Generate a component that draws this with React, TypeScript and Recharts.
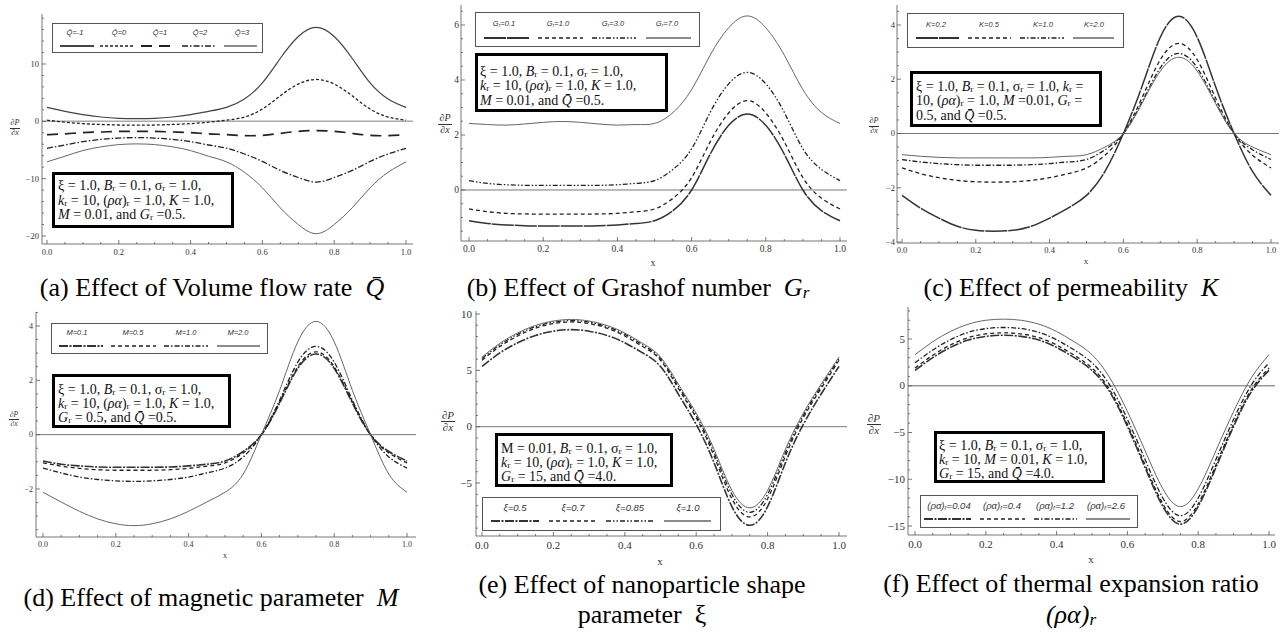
import React from 'react';
import { LineChart, Line, XAxis, YAxis, ReferenceLine } from 'recharts';

// ---------- shared x grid ----------
const xValues = [0, 0.05, 0.1, 0.15, 0.2, 0.25, 0.3, 0.35, 0.4, 0.45, 0.5, 0.55, 0.6, 0.65, 0.7, 0.75, 0.8, 0.85, 0.9, 0.95, 1];
const xTickLabels = ['0.0', '0.2', '0.4', '0.6', '0.8', '1.0'];

// ---------- (a) volume flow rate ----------
const qBarLabels = ['-1', '0', '1', '2', '3'];
const qBarM1 = [2.43, 1.74, 1.16, 0.75, 0.52, 0.46, 0.52, 0.75, 1.16, 1.74, 2.43, 3.9, 6.7, 11.0, 14.8, 16.4, 14.8, 11.0, 6.7, 3.9, 2.43];
const qBar0 = [0.2, -0.15, -0.4, -0.55, -0.64, -0.68, -0.64, -0.55, -0.4, -0.15, 0.2, 0.75, 2.15, 4.45, 6.5, 7.3, 6.5, 4.45, 2.15, 0.75, 0.2];
const qBar1 = [-2.32, -2.18, -1.97, -1.86, -1.77, -1.74, -1.77, -1.86, -1.97, -2.18, -2.32, -2.5, -2.45, -2.1, -1.75, -1.62, -1.75, -2.1, -2.45, -2.5, -2.32];
const qBar2 = [-4.7, -4.13, -3.54, -3.16, -2.92, -2.84, -2.92, -3.16, -3.54, -4.13, -4.7, -5.7, -7.0, -8.57, -9.8, -10.6, -9.8, -8.57, -7.0, -5.7, -4.7];
const qBar3 = [-7.07, -6.09, -5.1, -4.46, -4.06, -3.94, -4.06, -4.46, -5.1, -6.09, -7.07, -8.9, -11.6, -15.1, -18.0, -19.6, -18.0, -15.1, -11.6, -8.9, -7.07];

// ---------- (b) Grashof number ----------
const grLabels = ['0.1', '1.0', '3.0', '7.0'];
const gr01 = [-1.12, -1.22, -1.27, -1.3, -1.31, -1.31, -1.31, -1.3, -1.27, -1.22, -1.12, -0.75, 0.0, 1.3, 2.35, 2.76, 2.35, 1.3, 0.0, -0.75, -1.12];
const gr10 = [-0.69, -0.79, -0.85, -0.87, -0.88, -0.88, -0.88, -0.87, -0.85, -0.79, -0.69, -0.3, 0.45, 1.75, 2.8, 3.25, 2.8, 1.75, 0.45, -0.3, -0.69];
const gr30 = [0.34, 0.24, 0.19, 0.17, 0.17, 0.17, 0.17, 0.17, 0.19, 0.24, 0.34, 0.75, 1.5, 2.82, 3.86, 4.28, 3.86, 2.82, 1.5, 0.75, 0.34];
const gr70 = [2.42, 2.38, 2.36, 2.4, 2.46, 2.49, 2.46, 2.4, 2.36, 2.38, 2.42, 2.82, 3.65, 4.9, 5.9, 6.33, 5.9, 4.9, 3.65, 2.82, 2.42];

// ---------- (c) permeability ----------
const kLabels = ['0.2', '0.5', '1.0', '2.0'];
const k02 = [-2.28, -2.75, -3.12, -3.42, -3.57, -3.6, -3.57, -3.42, -3.12, -2.75, -2.28, -1.4, 0.0, 1.72, 3.55, 4.32, 3.55, 1.72, 0.0, -1.4, -2.28];
const k05 = [-1.27, -1.48, -1.63, -1.73, -1.78, -1.79, -1.78, -1.73, -1.63, -1.48, -1.27, -0.8, 0.0, 1.3, 2.72, 3.32, 2.72, 1.3, 0.0, -0.8, -1.27];
const k10 = [-0.96, -1.05, -1.11, -1.15, -1.17, -1.17, -1.17, -1.15, -1.11, -1.05, -0.96, -0.6, 0.0, 1.15, 2.42, 2.95, 2.42, 1.15, 0.0, -0.6, -0.96];
const k20 = [-0.78, -0.84, -0.88, -0.9, -0.9, -0.9, -0.9, -0.9, -0.88, -0.84, -0.78, -0.5, 0.0, 1.1, 2.3, 2.81, 2.3, 1.1, 0.0, -0.5, -0.78];

// ---------- (d) magnetic parameter ----------
const mLabels = ['0.1', '0.5', '1.0', '2.0'];
const m01 = [-0.97, -1.09, -1.15, -1.19, -1.2, -1.2, -1.2, -1.19, -1.15, -1.09, -0.97, -0.62, 0.0, 1.16, 2.44, 2.97, 2.44, 1.16, 0.0, -0.62, -0.97];
const m05 = [-1.04, -1.16, -1.24, -1.29, -1.31, -1.31, -1.31, -1.29, -1.24, -1.16, -1.04, -0.67, 0.0, 1.2, 2.5, 3.05, 2.5, 1.2, 0.0, -0.67, -1.04];
const m10 = [-1.23, -1.41, -1.56, -1.65, -1.7, -1.72, -1.7, -1.65, -1.56, -1.41, -1.23, -0.82, 0.0, 1.27, 2.67, 3.25, 2.67, 1.27, 0.0, -0.82, -1.23];
const m20 = [-2.12, -2.48, -2.82, -3.1, -3.28, -3.35, -3.28, -3.1, -2.82, -2.48, -2.12, -1.45, 0.0, 1.63, 3.42, 4.17, 3.42, 1.63, 0.0, -1.45, -2.12];

// ---------- (e) nanoparticle shape parameter ----------
const xiLabels = ['0.5', '0.7', '0.85', '1.0'];
const xi05 = [5.35, 6.55, 7.45, 8.1, 8.48, 8.62, 8.48, 8.1, 7.45, 6.55, 5.35, 2.9, 0.2, -3.2, -7.1, -8.75, -7.1, -3.2, 0.2, 2.9, 5.35];
const xi07 = [5.9, 7.12, 8.05, 8.75, 9.15, 9.3, 9.15, 8.75, 8.05, 7.12, 5.9, 3.4, 0.8, -2.6, -6.4, -8.0, -6.4, -2.6, 0.8, 3.4, 5.9];
const xi085 = [6.05, 7.27, 8.2, 8.88, 9.28, 9.42, 9.28, 8.88, 8.2, 7.27, 6.05, 3.6, 1.0, -2.3, -6.0, -7.6, -6.0, -2.3, 1.0, 3.6, 6.05];
const xi10 = [6.18, 7.4, 8.32, 8.99, 9.38, 9.52, 9.38, 8.99, 8.32, 7.4, 6.18, 3.78, 1.2, -2.0, -5.65, -7.2, -5.65, -2.0, 1.2, 3.78, 6.18];

// ---------- (f) thermal expansion ratio ----------
const raLabels = ['0.04', '0.4', '1.2', '2.6'];
const ra004 = [1.64, 3.0, 4.1, 4.88, 5.28, 5.4, 5.28, 4.88, 4.1, 3.0, 1.64, -0.65, -4.35, -8.75, -12.9, -14.8, -12.9, -8.75, -4.35, -0.65, 1.64];
const ra04 = [1.89, 3.26, 4.36, 5.14, 5.54, 5.66, 5.54, 5.14, 4.36, 3.26, 1.89, -0.43, -4.11, -8.48, -12.62, -14.52, -12.62, -8.48, -4.11, -0.43, 1.89];
const ra12 = [2.45, 3.82, 4.92, 5.7, 6.11, 6.23, 6.11, 5.7, 4.92, 3.82, 2.45, 0.07, -3.58, -7.89, -12.0, -13.9, -12.0, -7.89, -3.58, 0.07, 2.45];
const ra26 = [3.32, 4.7, 5.8, 6.58, 7.0, 7.12, 7.0, 6.58, 5.8, 4.7, 3.32, 0.85, -2.75, -6.95, -11.02, -12.93, -11.02, -6.95, -2.75, 0.85, 3.32];

// ---------- styles ----------
type St = { stroke: string; width: number; dash?: string; lw?: number };
const THIN: St = { stroke: '#666', width: 1.0 };
const DASHED: St = { stroke: '#222', width: 1.3, dash: '4 3' };
const DASHDOT: St = { stroke: '#222', width: 1.3, dash: '5 2 1.5 2' };
const DASHDOTDOT: St = { stroke: '#222', width: 1.3, dash: '5 2 1.5 2 1.5 2' };
const THICKDASH: St = { stroke: '#333', width: 1.5, dash: '22 1', lw: 2.2 };
const THICKDD: St = { stroke: '#333', width: 1.6, dash: '9 1.5 2 1.5', lw: 2.0 };

const buildRows = (arrs: number[][]) =>
  xValues.map((x, i) => {
    const r: any = { x };
    arrs.forEach((a, k) => { r['s' + k] = a[i]; });
    return r;
  });

const stepTicks = (a: number, b: number, s: number) => {
  const out: number[] = [];
  const n = Math.round((b - a) / s);
  for (let i = 0; i <= n; i++) out.push(Math.round((a + i * s) * 1000) / 1000);
  return out;
};

const isMajor = (v: number, step: number) => Math.abs(v / step - Math.round(v / step)) < 1e-6;
const fmtY = (v: number) => (v < 0 ? '\u2212' + Math.abs(v) : String(v));

const Sub = ({ c }: { c: React.ReactNode }) => (
  <sub style={{ fontSize: '66%', verticalAlign: '-0.12em', lineHeight: 0 }}>{c}</sub>
);
const I = ({ c }: { c: React.ReactNode }) => <i>{c}</i>;
const QB = 'Q\u0304';

// ---------- panel configuration ----------
const panels: any[] = [
  {
    frame: { l: 42, t: 14, r: 413, b: 244 },
    xDomain: [-0.0139, 1.0195], yDomain: [-21.4, 18.72],
    yTicks: stepTicks(-20, 18, 2), yMajor: 10,
    tickFont: 8.5, xLabelDy: 10.5, yGap: 3,
    rows: buildRows([qBarM1, qBar0, qBar1, qBar2, qBar3]),
    styles: [{ stroke: '#444', width: 1.2, lw: 2.2 }, { stroke: '#222', width: 1.3, dash: '3 2' }, { stroke: '#222', width: 1.7, dash: '11 7' }, { stroke: '#222', width: 1.3, dash: '6 2 1.5 2' }, THIN],
    zero: { stroke: '#aaa', width: 1.5 },
    legend: {
      l: 52, t: 23, r: 263, b: 53, labelY: 32.5, lineY: 46, fs: 7.5,
      cx: [75, 119, 160, 200, 242], seg: [[60, 94], [100, 135], [141, 174], [182, 215], [224, 257]],
      labels: qBarLabels.map((q) => <>{QB}={q}</>),
    },
    param: { l: 52, t: 172, r: 234, b: 228, x: 58, ys: [186, 200.5, 215], fs: 14,
      lines: [
        <>ξ = 1.0, <I c="B" /><Sub c="r" /> = 0.1, σ<Sub c="r" /> = 1.0,</>,
        <><I c="k" /><Sub c="r" /> = 10, (<I c="ρα" />)<Sub c="r" /> = 1.0, <I c="K" /> = 1.0,</>,
        <><I c="M" /> = 0.01, and <I c="G" /><Sub c="r" /> =0.5.</>,
      ] },
    ylab: { cx: 15, cy: 128, fs: 8 },
    xlab: null,
    caption: { cx: 212, cys: [288], lines: [<>(a) Effect of Volume flow rate&nbsp;&nbsp;<I c={QB} /></>] },
  },
  {
    frame: { l: 461, t: 5, r: 847, b: 241 },
    xDomain: [-0.0216, 1.0189], yDomain: [-1.855, 6.727],
    yTicks: stepTicks(-1.5, 6.5, 0.5), yMajor: 2,
    tickFont: 9.5, xLabelDy: 10.5, yGap: 2,
    rows: buildRows([gr01, gr10, gr30, gr70]),
    styles: [THICKDASH, DASHED, DASHDOTDOT, THIN],
    zero: { stroke: '#777', width: 1 },
    legend: {
      l: 475, t: 12, r: 700, b: 47, labelY: 24, lineY: 37.5, fs: 7.5,
      cx: [504, 558, 613, 667], seg: [[484, 529], [538, 583], [592, 636], [646, 691]],
      labels: grLabels.map((g) => <>G<Sub c="r" />={g}</>),
    },
    param: { l: 475, t: 53, r: 668, b: 112, x: 480, ys: [71.5, 86, 100.5], fs: 14,
      lines: [
        <>ξ = 1.0, <I c="B" /><Sub c="r" /> = 0.1, σ<Sub c="r" /> = 1.0,</>,
        <><I c="k" /><Sub c="r" /> = 10, (<I c="ρα" />)<Sub c="r" /> = 1.0, <I c="K" /> = 1.0,</>,
        <><I c="M" /> = 0.01, and <I c={QB} /> =0.5.</>,
      ] },
    ylab: { cx: 445, cy: 124, fs: 10 },
    xlab: { x: 653, y: 263, fs: 10 },
    caption: { cx: 638, cys: [288], lines: [<>(b) Effect of Grashof number&nbsp;&nbsp;<I c={<>G<Sub c="r" /></>} /></>] },
  },
  {
    frame: { l: 897, t: 5, r: 1279, b: 243 },
    xDomain: [-0.0136, 1.0217], yDomain: [-4.037, 4.737],
    yTicks: stepTicks(-4, 4.5, 0.5), yMajor: 2,
    tickFont: 8.5, xLabelDy: 9.5, yGap: 2,
    rows: buildRows([k02, k05, k10, k20]),
    styles: [THICKDASH, DASHED, DASHDOT, THIN],
    zero: { stroke: '#777', width: 1 },
    legend: {
      l: 907, t: 13, r: 1124, b: 48, labelY: 25, lineY: 38, fs: 7.5,
      cx: [936, 989, 1043, 1094], seg: [[916, 959], [968, 1011], [1020, 1064], [1073, 1114]],
      labels: kLabels.map((k) => <>K={k}</>),
    },
    param: { l: 910, t: 71, r: 1102, b: 127, x: 916, ys: [87, 101, 115.5], fs: 14,
      lines: [
        <>ξ = 1.0, <I c="B" /><Sub c="r" /> = 0.1, σ<Sub c="r" /> = 1.0, <I c="k" /><Sub c="r" /> =</>,
        <>10, (<I c="ρα" />)<Sub c="r" /> = 1.0, <I c="M" /> =0.01, <I c="G" /><Sub c="r" /> =</>,
        <>0.5, and <I c={QB} /> =0.5.</>,
      ] },
    ylab: { cx: 874, cy: 126, fs: 8 },
    xlab: { x: 1086, y: 261, fs: 9 },
    caption: { cx: 1071, cys: [288], lines: [<>(c) Effect of permeability&nbsp;&nbsp;<I c="K" /></>] },
  },
  {
    frame: { l: 36, t: 312, r: 416, b: 537 },
    xDomain: [-0.0192, 1.0247], yDomain: [-3.767, 4.515],
    yTicks: stepTicks(-3.5, 4.5, 0.5), yMajor: 2,
    tickFont: 8, xLabelDy: 9.5, yGap: 3,
    rows: buildRows([m01, m05, m10, m20]),
    styles: [THICKDD, DASHED, DASHDOT, THIN],
    zero: { stroke: '#777', width: 1 },
    legend: {
      l: 51, t: 323, r: 268, b: 354, labelY: 333, lineY: 346, fs: 7.5,
      cx: [77, 133, 186, 238], seg: [[59, 103], [111, 156], [164, 208], [217, 260]],
      labels: mLabels.map((m) => <>M={m}</>),
    },
    param: { l: 52, t: 374, r: 231, b: 428, x: 58, ys: [390, 404, 418], fs: 14,
      lines: [
        <>ξ = 1.0, <I c="B" /><Sub c="r" /> = 0.1, σ<Sub c="r" /> = 1.0,</>,
        <><I c="k" /><Sub c="r" /> = 10, (<I c="ρα" />)<Sub c="r" /> = 1.0, <I c="K" /> = 1.0,</>,
        <><I c="G" /><Sub c="r" /> = 0.5, and <I c={QB} /> =0.5.</>,
      ] },
    ylab: { cx: 14, cy: 419, fs: 7.5 },
    xlab: { x: 225, y: 556, fs: 8 },
    caption: { cx: 211, cys: [598], lines: [<>(d) Effect of magnetic parameter&nbsp;&nbsp;<I c="M" /></>] },
  },
  {
    frame: { l: 476, t: 311, r: 847, b: 536 },
    xDomain: [-0.0168, 1.0224], yDomain: [-9.7, 10.27],
    yTicks: stepTicks(-9, 10, 1), yMajor: 5,
    tickFont: 11, xLabelDy: 13, yGap: 4,
    rows: buildRows([xi05, xi07, xi085, xi10]),
    styles: [THICKDD, DASHED, DASHDOTDOT, THIN],
    zero: { stroke: '#777', width: 1 },
    legend: {
      l: 482, t: 497, r: 721, b: 531, labelY: 508, lineY: 520.5, fs: 9.5,
      cx: [515, 573, 630, 688], seg: [[491, 539], [549, 597], [606, 654], [664, 711]],
      labels: xiLabels.map((v) => <>ξ={v}</>),
    },
    param: { l: 495, t: 433, r: 673, b: 487, x: 501, ys: [448.5, 462.5, 477], fs: 14,
      lines: [
        <>M = 0.01, <I c="B" /><Sub c="r" /> = 0.1, σ<Sub c="r" /> = 1.0,</>,
        <><I c="k" /><Sub c="r" /> = 10, (<I c="ρα" />)<Sub c="r" /> = 1.0, <I c="K" /> = 1.0,</>,
        <><I c="G" /><Sub c="r" /> = 15, and <I c={QB} /> =4.0.</>,
      ] },
    ylab: { cx: 448, cy: 422, fs: 11 },
    xlab: { x: 660, y: 561, fs: 11 },
    caption: { cx: 642, cys: [585, 615], lines: [<>(e) Effect of nanoparticle shape</>, <>parameter&nbsp;&nbsp;ξ</>] },
  },
  {
    frame: { l: 908, t: 307, r: 1275, b: 535 },
    xDomain: [-0.0198, 1.0169], yDomain: [-15.96, 8.42],
    yTicks: stepTicks(-15, 8, 1), yMajor: 5,
    tickFont: 11, xLabelDy: 12.5, yGap: 3,
    rows: buildRows([ra004, ra04, ra12, ra26]),
    styles: [THICKDD, DASHED, DASHDOT, THIN],
    zero: { stroke: '#999', width: 1.3 },
    legend: {
      l: 920, t: 495, r: 1138, b: 528, labelY: 506, lineY: 519, fs: 9.5,
      cx: [949, 1002, 1055, 1106], seg: [[924, 971], [980, 1025], [1034, 1077], [1086, 1130]],
      labels: raLabels.map((v) => <>(ρα)<Sub c="r" />={v}</>),
    },
    param: { l: 934, t: 431, r: 1105, b: 483, x: 939, ys: [446, 460, 474], fs: 14,
      lines: [
        <>ξ = 1.0, <I c="B" /><Sub c="r" /> = 0.1, σ<Sub c="r" /> = 1.0,</>,
        <><I c="k" /><Sub c="r" /> = 10, <I c="M" /> = 0.01, <I c="K" /> = 1.0,</>,
        <><I c="G" /><Sub c="r" /> = 15, and <I c={QB} /> =4.0.</>,
      ] },
    ylab: { cx: 874, cy: 425, fs: 11 },
    xlab: { x: 1091, y: 559, fs: 11 },
    caption: { cx: 1071, cys: [584, 615], lines: [<>(f) Effect of thermal expansion ratio</>, <I c={<>(ρα)<Sub c="r" /></>} />] },
  },
];

const xTicks = xValues;
const SERIF = '"Liberation Serif", "Times New Roman", serif';
const TICKC = '#555';

function Panel({ p }: { p: any }) {
  const padL = 36, padT = 4, padR = 4, padB = 24;
  const W = p.frame.r - p.frame.l, H = p.frame.b - p.frame.t;
  const fs = p.tickFont;

  const bottomTick = (props: any) => {
    const { x, y, payload } = props;
    const v = payload.value;
    const major = isMajor(v, 0.2);
    const idx = Math.round(v / 0.2);
    return (
      <g>
        <line x1={x} x2={x} y1={y} y2={y - (major ? 4 : 2)} stroke={TICKC} strokeWidth={0.8} />
        {major && (
          <text x={x} y={y + p.xLabelDy} textAnchor="middle" fontSize={fs} fontFamily={SERIF} fill="#333">{xTickLabels[idx]}</text>
        )}
      </g>
    );
  };
  const topTick = (props: any) => {
    const { x, y, payload } = props;
    const major = isMajor(payload.value, 0.2);
    return <line x1={x} x2={x} y1={y} y2={y + (major ? 4 : 2)} stroke={TICKC} strokeWidth={0.8} />;
  };
  const leftTick = (props: any) => {
    const { x, y, payload } = props;
    const v = payload.value;
    const major = isMajor(v, p.yMajor);
    return (
      <g>
        <line x1={x} x2={x + (major ? 4 : 2)} y1={y} y2={y} stroke={TICKC} strokeWidth={0.8} />
        {major && (
          <text x={x - p.yGap} y={y} dy="0.34em" textAnchor="end" fontSize={fs} fontFamily={SERIF} fill="#333">{fmtY(v)}</text>
        )}
      </g>
    );
  };
  const rightTick = (props: any) => {
    const { x, y, payload } = props;
    const major = isMajor(payload.value, p.yMajor);
    return <line x1={x} x2={x - (major ? 4 : 2)} y1={y} y2={y} stroke={TICKC} strokeWidth={0.8} />;
  };

  return (
    <div style={{ position: 'absolute', left: p.frame.l - padL, top: p.frame.t - padT }}>
      <LineChart width={W + padL + padR} height={H + padT + padB} data={p.rows} margin={{ top: padT, right: padR, bottom: 0, left: 0 }}>
        <XAxis dataKey="x" type="number" domain={p.xDomain} allowDataOverflow ticks={xTicks} interval={0}
          height={padB} tickSize={0} tickMargin={0} tickLine={false} axisLine={{ stroke: '#777' }} tick={bottomTick} />
        <XAxis xAxisId="top" orientation="top" dataKey="x" type="number" domain={p.xDomain} allowDataOverflow ticks={xTicks} interval={0}
          height={0} tickSize={0} tickMargin={0} tickLine={false} axisLine={{ stroke: '#777' }} tick={topTick} />
        <YAxis type="number" domain={p.yDomain} allowDataOverflow ticks={p.yTicks} interval={0}
          width={padL} tickSize={0} tickMargin={0} tickLine={false} axisLine={{ stroke: '#777' }} tick={leftTick} />
        <YAxis yAxisId="right" orientation="right" type="number" domain={p.yDomain} allowDataOverflow ticks={p.yTicks} interval={0}
          width={0} tickSize={0} tickMargin={0} tickLine={false} axisLine={{ stroke: '#777' }} tick={rightTick} />
        <ReferenceLine y={0} stroke={p.zero.stroke} strokeWidth={p.zero.width} />
        {p.styles.map((s: St, k: number) => (
          <Line key={k} dataKey={'s' + k} type="natural" dot={false} isAnimationActive={false}
            stroke={s.stroke} strokeWidth={s.width} strokeDasharray={s.dash} />
        ))}
      </LineChart>
    </div>
  );
}

function Overlays({ p }: { p: any }) {
  const lg = p.legend;
  const pm = p.param;
  return (
    <>
      <div style={{ position: 'absolute', left: lg.l, top: lg.t, width: lg.r - lg.l, height: lg.b - lg.t, border: '1px solid #555', background: '#fff', boxSizing: 'border-box' }} />
      {lg.labels.map((lab: any, i: number) => (
        <div key={'l' + i} style={{ position: 'absolute', left: lg.cx[i] - 26, width: 52, top: lg.labelY - 5, height: 10, lineHeight: '10px', textAlign: 'center', fontFamily: '"Liberation Sans", Arial, sans-serif', fontStyle: 'italic', fontSize: lg.fs, color: '#333', whiteSpace: 'nowrap' }}>{lab}</div>
      ))}
      {lg.seg.map((sg: number[], i: number) => {
        const s: St = p.styles[i];
        return (
          <svg key={'s' + i} style={{ position: 'absolute', left: sg[0], top: lg.lineY - 3 }} width={sg[1] - sg[0]} height={6}>
            <line x1={0} x2={sg[1] - sg[0]} y1={3} y2={3} stroke={s.stroke} strokeWidth={s.lw || s.width + 0.3} strokeDasharray={s.dash} />
          </svg>
        );
      })}
      <div style={{ position: 'absolute', left: pm.l, top: pm.t, width: pm.r - pm.l, height: pm.b - pm.t, border: '3px solid #000', background: '#fff', boxSizing: 'border-box' }} />
      {pm.lines.map((ln: any, i: number) => (
        <div key={'p' + i} style={{ position: 'absolute', left: pm.x, top: pm.ys[i] - 6, height: 12, lineHeight: '12px', fontFamily: SERIF, fontSize: pm.fs, color: '#111', whiteSpace: 'nowrap' }}>{ln}</div>
      ))}
      <div style={{ position: 'absolute', left: p.ylab.cx - 15, width: 30, top: p.ylab.cy - p.ylab.fs * 1.1, textAlign: 'center', fontFamily: SERIF, fontStyle: 'italic', fontSize: p.ylab.fs, lineHeight: `${p.ylab.fs * 1.05}px`, color: '#333' }}>
        <div style={{ display: 'inline-block' }}>
          <div style={{ borderBottom: '0.8px solid #333', padding: '0 1px' }}>∂P</div>
          <div>∂x</div>
        </div>
      </div>
      {p.xlab && (
        <div style={{ position: 'absolute', left: p.xlab.x - 10, width: 20, top: p.xlab.y - 7, height: 14, lineHeight: '14px', textAlign: 'center', fontFamily: SERIF, fontSize: p.xlab.fs, color: '#333' }}>x</div>
      )}
      {p.caption.lines.map((ln: any, i: number) => (
        <div key={'c' + i} style={{ position: 'absolute', left: p.caption.cx - 260, width: 520, top: p.caption.cys[i] - 14, height: 28, lineHeight: '28px', textAlign: 'center', fontFamily: SERIF, fontSize: 26, color: '#000', whiteSpace: 'nowrap' }}>{ln}</div>
      ))}
    </>
  );
}

export default function App() {
  return (
    <div style={{ position: 'absolute', left: 0, top: 0, width: 1286, height: 635, background: '#fff', overflow: 'hidden' }}>
      {panels.map((p, i) => <Panel key={'pn' + i} p={p} />)}
      {panels.map((p, i) => <Overlays key={'ov' + i} p={p} />)}
    </div>
  );
}
